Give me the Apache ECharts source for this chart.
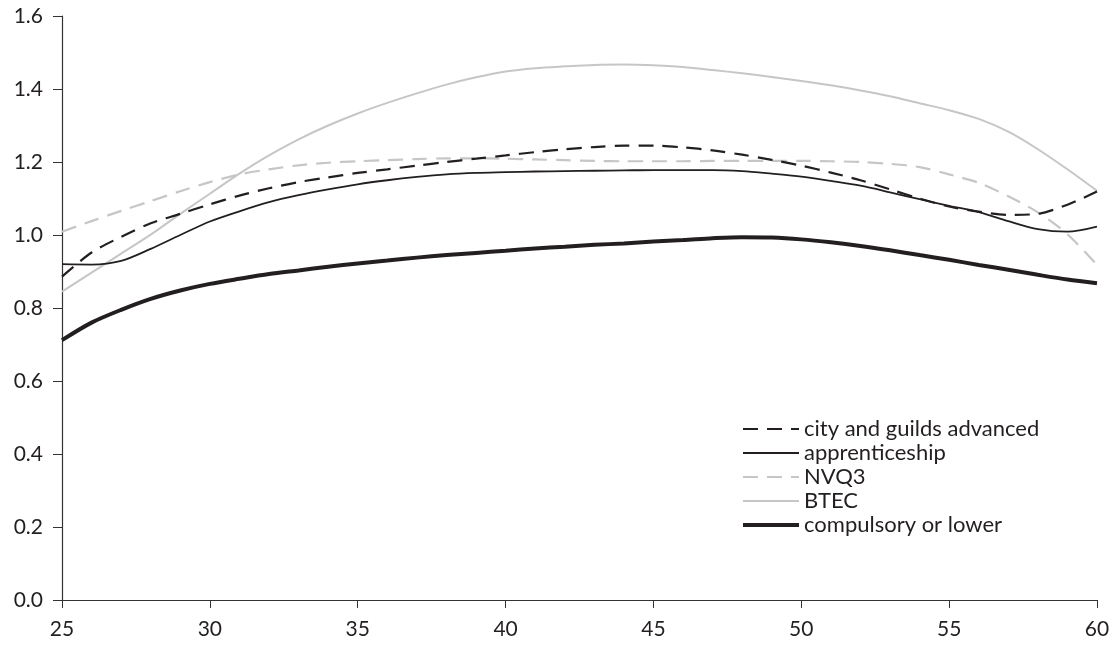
<!DOCTYPE html>
<html>
<head>
<meta charset="utf-8">
<script src="https://cdn.jsdelivr.net/npm/echarts@6/dist/echarts.min.js"></script>
<style>html,body{margin:0;padding:0;background:#fff;}#c{width:1116px;height:646px;}</style>
</head>
<body>
<div id="c"></div>
<script>
const ages = [25,26,27,28,29,30,31,32,33,34,35,36,37,38,39,40,41,42,43,44,45,46,47,48,49,50,51,52,53,54,55,56,57,58,59,60];
const cityGuilds = [0.886,0.952,0.995,1.032,1.058,1.084,1.108,1.128,1.145,1.158,1.170,1.180,1.190,1.200,1.209,1.218,1.227,1.235,1.241,1.245,1.245,1.240,1.232,1.220,1.206,1.190,1.171,1.150,1.125,1.100,1.078,1.064,1.055,1.058,1.083,1.119];
const apprenticeship = [0.920,0.919,0.929,0.962,1.000,1.037,1.065,1.090,1.109,1.125,1.139,1.150,1.159,1.166,1.170,1.172,1.174,1.175,1.176,1.177,1.178,1.178,1.178,1.175,1.168,1.160,1.148,1.135,1.117,1.098,1.080,1.063,1.038,1.016,1.009,1.023];
const nvq3 = [1.009,1.038,1.066,1.093,1.120,1.145,1.166,1.180,1.191,1.198,1.202,1.205,1.208,1.210,1.210,1.209,1.207,1.205,1.203,1.202,1.202,1.202,1.203,1.203,1.203,1.203,1.202,1.200,1.195,1.186,1.166,1.143,1.106,1.062,1.002,0.918];
const btec = [0.845,0.897,0.949,1.001,1.058,1.113,1.168,1.218,1.262,1.300,1.333,1.362,1.388,1.412,1.432,1.448,1.457,1.462,1.466,1.467,1.465,1.460,1.452,1.443,1.433,1.422,1.410,1.396,1.380,1.361,1.342,1.318,1.283,1.235,1.180,1.121];
const compulsory = [0.712,0.760,0.795,0.825,0.848,0.866,0.880,0.893,0.903,0.913,0.922,0.930,0.938,0.945,0.951,0.957,0.963,0.968,0.973,0.977,0.982,0.986,0.991,0.994,0.993,0.988,0.980,0.970,0.958,0.945,0.932,0.918,0.905,0.891,0.878,0.868];
const seriesNames = ['city and guilds advanced','apprenticeship','NVQ3','BTEC','compulsory or lower'];

function pairs(vals){ return ages.map((a,i)=>[a,vals[i]]); }
const font = 'Lato, "Open Sans", sans-serif';
const chart = echarts.init(document.getElementById('c'));
chart.setOption({
  animation:false,
  backgroundColor:'#fff',
  grid:{left:62,right:19,top:16,bottom:46,containLabel:false},
  legend:{
    orient:'vertical', left:736, top:413, itemGap:2, itemWidth:56, itemHeight:14,
    itemStyle:{opacity:0},
    textStyle:{fontFamily:font,fontSize:22,color:'#231f20'},
    data:[
      {name:seriesNames[0]},
      {name:seriesNames[1]},
      {name:seriesNames[2]},
      {name:seriesNames[3]},
      {name:seriesNames[4],lineStyle:{width:4}}
    ]
  },
  xAxis:{
    type:'value',min:25,max:60,interval:5,
    axisLine:{lineStyle:{color:'#333',width:1.2}},
    axisTick:{show:true,length:8,lineStyle:{color:'#333'}},
    splitLine:{show:false},
    axisLabel:{fontFamily:font,fontSize:21,color:'#231f20',margin:19}
  },
  yAxis:{
    type:'value',min:0,max:1.6,interval:0.2,
    axisLine:{show:true,lineStyle:{color:'#333',width:1.2}},
    axisTick:{show:true,length:9,lineStyle:{color:'#333'}},
    splitLine:{show:false},
    axisLabel:{fontFamily:font,fontSize:21,color:'#231f20',margin:19,formatter:v=>v.toFixed(1)}
  },
  series:[
    {name:seriesNames[0],type:'line',smooth:0.3,symbol:'none',data:pairs(cityGuilds),
     itemStyle:{color:'#231f20'},lineStyle:{color:'#231f20',width:2.2,type:[15,9]},z:4},
    {name:seriesNames[1],type:'line',smooth:0.3,symbol:'none',data:pairs(apprenticeship),
     itemStyle:{color:'#231f20'},lineStyle:{color:'#231f20',width:1.8},z:3},
    {name:seriesNames[2],type:'line',smooth:0.3,symbol:'none',data:pairs(nvq3),
     itemStyle:{color:'#c6c6c6'},lineStyle:{color:'#c6c6c6',width:2.2,type:[15,9]},z:2},
    {name:seriesNames[3],type:'line',smooth:0.3,symbol:'none',data:pairs(btec),
     itemStyle:{color:'#c6c6c6'},lineStyle:{color:'#c6c6c6',width:2},z:1},
    {name:seriesNames[4],type:'line',smooth:0.3,symbol:'none',data:pairs(compulsory),
     itemStyle:{color:'#231f20'},lineStyle:{color:'#231f20',width:4},z:5}
  ]
});
</script>
</body>
</html>
